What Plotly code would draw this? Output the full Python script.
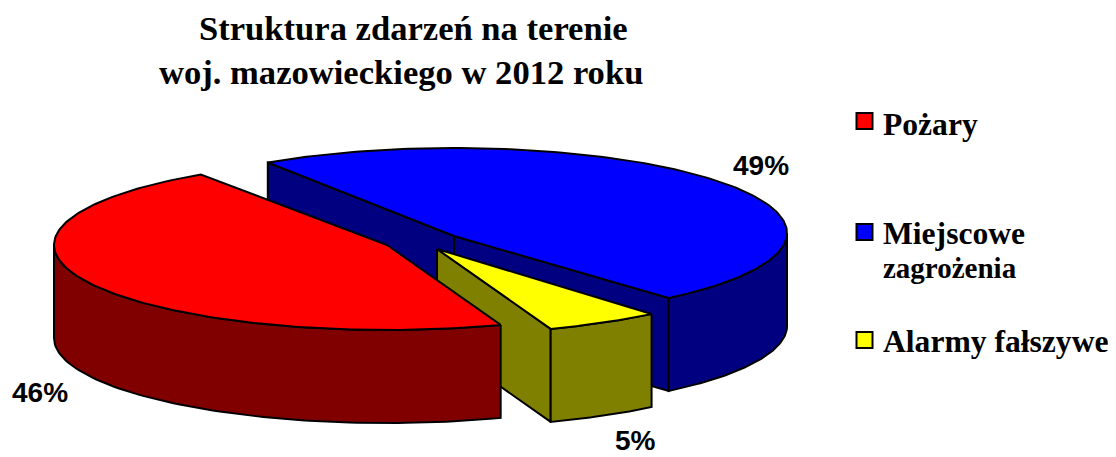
import numpy as np
import plotly.graph_objects as go

# Data
categories = ["Pożary", "Miejscowe", "Alarmy fałszywe"]
legend_second_line = ["", "zagrożenia", ""]
percent_labels = [46, 49, 5]
slice_shares = [46.1, 48.3, 5.6]
top_colors = ["#ff0000", "#0000ff", "#ffff00"]
side_colors = ["#800000", "#000080", "#808000"]
title_lines = ["Struktura zdarzeń na terenie", "woj. mazowieckiego w 2012 roku"]

# Scene geometry (axis units equal page pixels)
W, H = 1116, 457
RX, RY, DEPTH = 333, 85, 93
START_DEG = -34
DRAW_ORDER = [1, 2, 0]  # back to front
CENTERS = {0: (387, 245), 1: (454, 233), 2: (437, 249)}
TIPS = {0: (387, 245), 1: (454, 236), 2: (437, 249)}
LABEL_POS = {0: (40, 392), 1: (761, 165), 2: (635, 440)}
LEGEND_Y = {0: 121, 1: 232, 2: 340}
LEGEND_TEXT_Y = {0: 124, 1: 233, 2: 341}
TITLE_POS = [(413, 28), (401, 72)]

# Angular extents, clockwise from the top: blue, yellow, red
sweep_order = [1, 2, 0]
total = sum(slice_shares)
extents = {}
a = START_DEG
for i in sweep_order:
    extents[i] = (a, a + 360 * slice_shares[i] / total)
    a = extents[i][1]


def rim(c, phis):
    p = np.radians(phis)
    return c[0] + RX * np.sin(p), c[1] - RY * np.cos(p)


fig = go.Figure()


def poly(x, y, color):
    fig.add_trace(go.Scatter(
        x=list(x), y=list(y), mode="lines", fill="toself", fillcolor=color,
        line=dict(color="black", width=2), hoverinfo="skip", showlegend=False))


for i in DRAW_ORDER:
    c = CENTERS[i]
    t = TIPS[i]
    a0, a1 = extents[i]
    # radial faces
    for phi, sign in ((a0, 1), (a1, -1)):
        if sign * np.sin(np.radians(phi)) < 0:
            rx_, ry_ = rim(c, np.array([phi]))
            poly([t[0], rx_[0], rx_[0], t[0], t[0]],
                 [t[1], ry_[0], ry_[0] + DEPTH, t[1] + DEPTH, t[1]], side_colors[i])
    # outer wall (front half of the rim only)
    lo, hi = max(a0, 90), min(a1, 270)
    if hi > lo:
        ph = np.linspace(lo, hi, 80)
        xs, ys = rim(c, ph)
        poly(np.r_[xs, xs[::-1], xs[0]], np.r_[ys, ys[::-1] + DEPTH, ys[0]], side_colors[i])
    # top face
    ph = np.linspace(a0, a1, 160)
    xs, ys = rim(c, ph)
    poly(np.r_[t[0], xs, t[0]], np.r_[t[1], ys, t[1]], top_colors[i])

# Legend markers
for i, name in enumerate(categories):
    fig.add_trace(go.Scatter(
        x=[864.5], y=[LEGEND_Y[i]], mode="markers", hoverinfo="skip", showlegend=False,
        marker=dict(symbol="square", size=16, color=top_colors[i],
                    line=dict(color="black", width=2))))

annotations = []
serif = "Liberation Serif"
for i, name in enumerate(categories):
    annotations.append(dict(x=881, y=LEGEND_TEXT_Y[i], text=f"<b>{name}</b>", showarrow=False,
                            xanchor="left", yanchor="middle",
                            font=dict(family=serif, size=31.6, color="black")))
    if legend_second_line[i]:
        annotations.append(dict(x=881, y=LEGEND_TEXT_Y[i] + 35, text=f"<b>{legend_second_line[i]}</b>",
                                showarrow=False, xanchor="left", yanchor="middle",
                                font=dict(family=serif, size=29, color="black")))
    lx, ly = LABEL_POS[i]
    annotations.append(dict(x=lx, y=ly, text=f"<b>{percent_labels[i]}%</b>", showarrow=False,
                            xanchor="center", yanchor="middle",
                            font=dict(family="Liberation Sans", size=28, color="black")))
for ln, (tx, ty) in zip(title_lines, TITLE_POS):
    annotations.append(dict(x=tx, y=ty, text=f"<b>{ln}</b>", showarrow=False,
                            xanchor="center", yanchor="middle",
                            font=dict(family=serif, size=34.6, color="black")))

fig.update_layout(
    width=W, height=H, margin=dict(l=0, r=0, t=0, b=0),
    paper_bgcolor="white", plot_bgcolor="white", showlegend=False,
    xaxis=dict(range=[0, W], visible=False, fixedrange=True),
    yaxis=dict(range=[H, 0], visible=False, fixedrange=True),
    annotations=annotations,
)
fig.write_html("out.html", config=dict(displayModeBar=False),
               post_script="document.body.style.margin='0';document.body.style.overflow='hidden';")
